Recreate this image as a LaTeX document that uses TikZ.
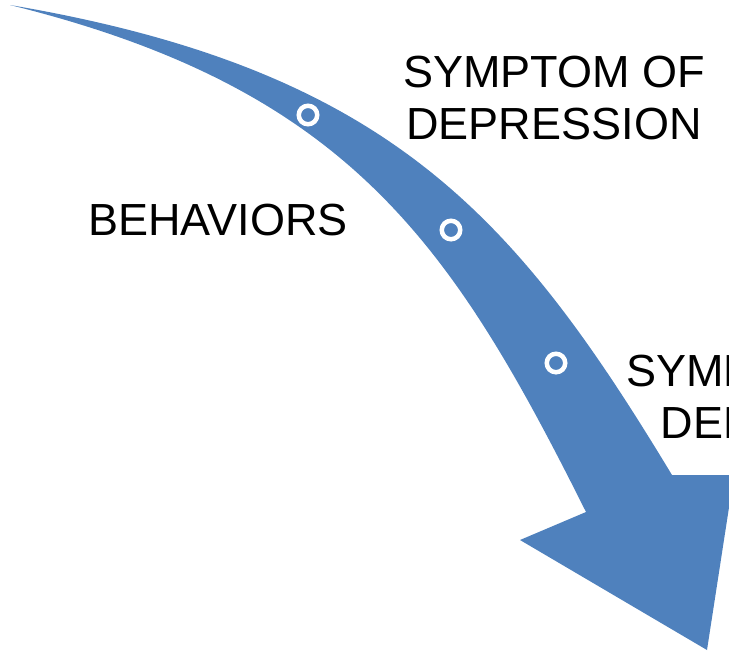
\documentclass[tikz,border=0pt]{standalone}
\usepackage{fontspec}
\setmainfont{Liberation Sans}
\definecolor{arrowblue}{RGB}{79,129,189}
\begin{document}
\begin{tikzpicture}[x=1pt,y=-1pt,
  lbl/.style={align=center,inner sep=0pt,font=\fontsize{45}{52}\selectfont},
  dot/.style={circle,draw=white,line width=4.5pt,minimum size=18.5pt,inner sep=0pt}]
\useasboundingbox (0,0) rectangle (729,654);
\clip (0,0) rectangle (729,654);
\fill[arrowblue] (10,5) .. controls (390,69.6) and (516,217) .. (672,475)
  -- (734,475) -- (707,650) -- (520,540) -- (586,512)
  .. controls (452,244) and (349.5,89) .. (10,5) -- cycle;
\node[dot] (d1) at (308,115) {};
\node[dot] (d2) at (451,230) {};
\node[dot] (d3) at (556,363) {};
\node[lbl] (t1) at (554,98.5) {SYMPTOM OF\\DEPRESSION};
\node[lbl] (t2) at (218,220) {BEHAVIORS};
\node[lbl] (t3) at (777,396.5) {SYMPTOM OF\\DEMENTIA};
\end{tikzpicture}
\end{document}
